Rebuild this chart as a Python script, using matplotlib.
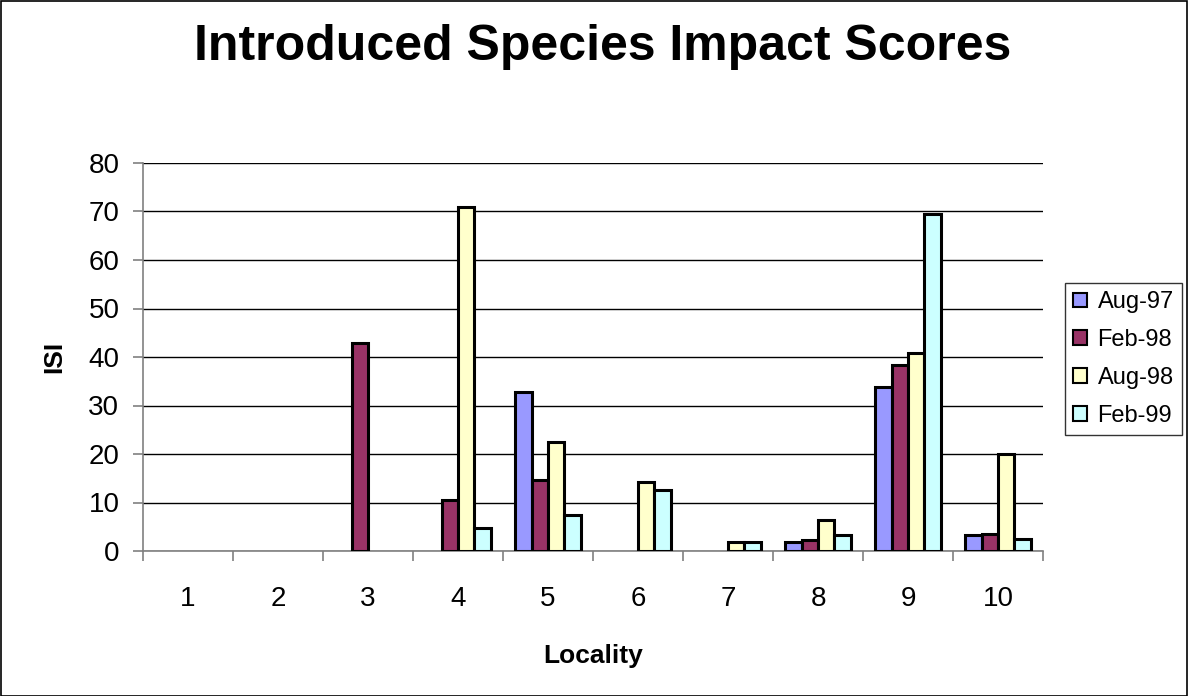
import matplotlib
matplotlib.use("Agg")
import matplotlib.pyplot as plt
import numpy as np

localities = ["1", "2", "3", "4", "5", "6", "7", "8", "9", "10"]
series_names = ["Aug-97", "Feb-98", "Aug-98", "Feb-99"]
aug97 = [0, 0, 0, 0, 32.8, 0, 0, 1.8, 33.8, 3.2]
feb98 = [0, 0, 42.9, 10.5, 14.6, 0, 0, 2.2, 38.4, 3.6]
aug98 = [0, 0, 0, 70.9, 22.5, 14.3, 1.8, 6.3, 40.8, 20.0]
feb99 = [0, 0, 0, 4.7, 7.4, 12.6, 1.9, 3.4, 69.5, 2.4]
colors = ["#9999FF", "#993366", "#FFFFCC", "#CCFFFF"]

plt.rcParams['font.family'] = ['Liberation Sans', 'DejaVu Sans']

fig = plt.figure(figsize=(11.88, 6.96), dpi=100)
ax = fig.add_axes([143/1188, 1-551/696, 900/1188, 388/696])

x = np.arange(len(localities))
w = 0.183
for i, (vals, c, name) in enumerate(zip([aug97, feb98, aug98, feb99], colors, series_names)):
    pos = x + (i - 1.5) * w
    vals = np.array(vals, dtype=float)
    mask = vals > 0
    ax.bar(pos[mask], vals[mask], width=w, color=c, edgecolor='black', linewidth=2.2, label=name, zorder=3)

ax.set_xlim(-0.5, len(localities) - 0.5)
ax.set_ylim(0, 80)
ax.set_yticks(range(0, 81, 10))
ax.yaxis.grid(True, color='black', linewidth=1)
ax.set_axisbelow(True)
ax.set_xticks(x)
ax.set_xticklabels(localities)
ax.set_xticks(np.arange(-0.5, len(localities)), minor=True)
ax.tick_params(axis='x', which='major', length=0, pad=25, labelsize=20)
ax.tick_params(axis='x', which='minor', length=7, color='#808080', width=1.2)
ax.tick_params(axis='y', length=7, width=1.2, color='#808080', labelsize=20, pad=10)
for s in ['top', 'right']:
    ax.spines[s].set_visible(False)
ax.spines['left'].set_color('#808080')
ax.spines['bottom'].set_color('#808080')
ax.spines['left'].set_linewidth(1.2)
ax.spines['bottom'].set_linewidth(1.2)

ax.set_xlabel("Locality", fontsize=19, fontweight='bold', labelpad=23)
ax.set_ylabel("ISI", fontsize=19, fontweight='bold', labelpad=16)

fig.text(603/1188, 1-47/696, "Introduced Species Impact Scores", ha='center', va='center',
         fontsize=36, fontweight='bold')

leg = fig.legend(loc='upper left', bbox_to_anchor=(1065/1188, 1-283/696), fontsize=17,
                 frameon=True, fancybox=False, edgecolor='black', handlelength=0.58, handleheight=0.58,
                 handletextpad=0.45, borderpad=0.35, labelspacing=0.67, borderaxespad=0)
leg.get_frame().set_linewidth(1)
for h in leg.legend_handles:
    h.set_linewidth(1.5)

fig.patches.append(plt.Rectangle((0.5/1188, 0.5/696), 1 - 1.5/1188, 1 - 1.5/696, transform=fig.transFigure,
                                 fill=False, edgecolor='black', linewidth=1.2))
fig.savefig("out.png", dpi=100)
